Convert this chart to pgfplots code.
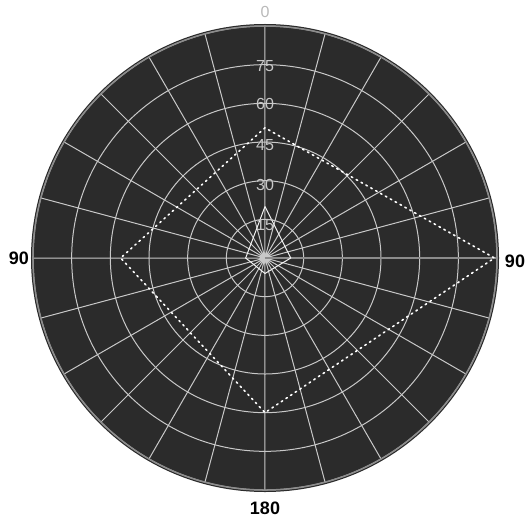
\documentclass[border=0pt]{standalone}
\usepackage{pgfplots}
\pgfplotsset{compat=1.18}
\usepgfplotslibrary{polar}
\usepackage{fontspec}
\setmainfont{Liberation Sans}
\definecolor{bgcol}{HTML}{2B2B2B}
\definecolor{gridcol}{HTML}{C8C8C8}
\begin{document}
\begin{tikzpicture}
\path[use as bounding box] (-265pt,-264pt) rectangle (261pt,258pt);
\fill[bgcol] (0,0) circle (234pt);
\begin{polaraxis}[
  at={(0pt,0pt)}, anchor=center,
  scale only axis, width=464pt, height=464pt,
  ymin=0, ymax=90,
  xtick={0,15,...,345}, ytick={15,30,...,90},
  xticklabels={}, yticklabels={},
  major tick length=0pt,
  grid=major,
  major grid style={draw=gridcol, line width=1pt},
  axis line style={draw=gridcol!70!black, line width=1.5pt},
]
% dotted quadrilateral (angle measured from right, counter-clockwise)
\addplot[white, line width=1.6pt, dash pattern=on 1.6pt off 4pt, line cap=round]
  coordinates {(90,50.5) (180,56) (270,60) (0,89) (90,50.5)};
% small kite at the centre
\addplot[white!90!gray, line width=1pt]
  coordinates {(90,20) (180,7.5) (270,6) (0,10) (90,20)};
\end{polaraxis}
\node[gridcol!80!gray, font=\fontsize{16}{16}\selectfont] at (0pt,246pt) {0};
\node[black, font=\fontsize{18}{18}\bfseries] at (0pt,-250pt) {180};
\node[black, font=\fontsize{18}{18}\bfseries] at (-246pt,0pt) {90};
\node[black, font=\fontsize{18}{18}\bfseries] at (250pt,-3pt) {90};
\foreach \v/\r in {15/33, 30/73, 45/113, 60/154, 75/192}{
  \node[gridcol, font=\fontsize{16}{16}\selectfont] at (0pt,\r pt) {\v};
}
\end{tikzpicture}
\end{document}
